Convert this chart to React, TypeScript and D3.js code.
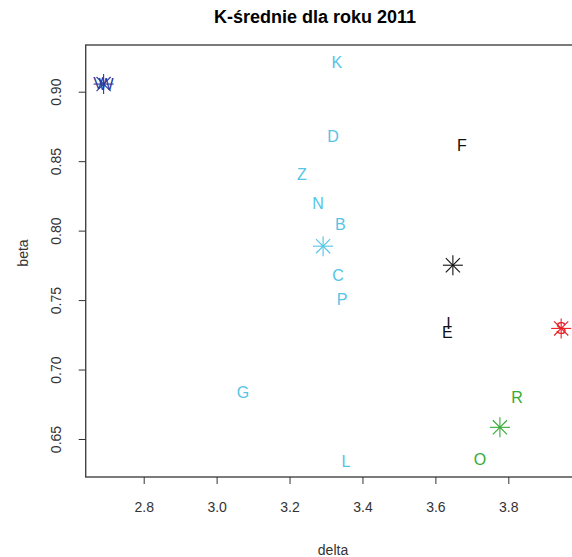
import React, { useEffect, useRef } from 'react';
import * as d3 from 'd3';

// country labels, their delta / beta values and cluster id
const LABELS = ['V', 'W', 'K', 'D', 'Z', 'N', 'B', 'C', 'P', 'G', 'L', 'F', 'I', 'E', 'S', 'R', 'O'];
const DELTA = [2.676, 2.697, 3.330, 3.319, 3.234, 3.278, 3.339, 3.333, 3.344, 3.072, 3.355, 3.673, 3.636, 3.633, 3.945, 3.824, 3.722];
const BETA = [0.9060, 0.9055, 0.9207, 0.8674, 0.8407, 0.8198, 0.8047, 0.7679, 0.7506, 0.6836, 0.6339, 0.8615, 0.7335, 0.7270, 0.7296, 0.6800, 0.6353];
const CLUSTER = [0, 0, 1, 1, 1, 1, 1, 1, 1, 1, 1, 2, 2, 2, 3, 4, 4];

// cluster centres
const CENTER_DELTA = [2.690, 3.292, 3.648, 3.945, 3.777];
const CENTER_BETA = [0.9055, 0.7888, 0.7751, 0.7296, 0.6584];
const COLORS = ['#2b3a9e', '#55c4e6', '#111111', '#e8202a', '#36ab36'];

const X_TICKS = [2.8, 3.0, 3.2, 3.4, 3.6, 3.8];
const Y_TICKS = [0.65, 0.70, 0.75, 0.80, 0.85, 0.90];

const App: React.FC = () => {
  const svgRef = useRef<SVGSVGElement>(null);

  useEffect(() => {
    if (!svgRef.current) return;
    const svg = d3.select(svgRef.current);
    svg.selectAll('*').remove();

    const left = 85.7, right = 574, top = 45, bottom = 477;
    const x = d3.scaleLinear().domain([2.8, 3.8]).range([143.7, 508.3]);
    const y = d3.scaleLinear().domain([0.65, 0.90]).range([439, 91.7]);
    const font = 'Liberation Sans, Arial, sans-serif';

    svg.append('rect')
      .attr('x', left).attr('y', top)
      .attr('width', right - left).attr('height', bottom - top)
      .attr('fill', 'none').attr('stroke', '#444').attr('stroke-width', 1.4);

    // x axis
    const xa = svg.append('g')
      .attr('transform', `translate(0,${bottom})`)
      .call(d3.axisBottom(x).tickValues(X_TICKS).tickFormat(d3.format('.1f')).tickSize(7).tickPadding(18));
    xa.select('.domain').remove();
    xa.selectAll('line').attr('stroke', '#333');
    xa.selectAll('text').attr('font-family', font).attr('font-size', 14).attr('fill', '#333');

    // y axis, labels rotated like R's default
    const ya = svg.append('g')
      .attr('transform', `translate(${left},0)`)
      .call(d3.axisLeft(y).tickValues(Y_TICKS).tickFormat(d3.format('.2f')).tickSize(7).tickPadding(0));
    ya.select('.domain').remove();
    ya.selectAll('line').attr('stroke', '#333');
    ya.selectAll('text')
      .attr('font-family', font).attr('font-size', 14).attr('fill', '#333')
      .attr('x', 0).attr('dy', 0)
      .attr('text-anchor', 'middle')
      .attr('transform', 'translate(-28,0) rotate(-90)')
      .attr('dominant-baseline', 'middle');

    // letters
    svg.append('g').selectAll('text')
      .data(LABELS)
      .enter()
      .append('text')
      .attr('x', (d, i) => x(DELTA[i]))
      .attr('y', (d, i) => y(BETA[i]))
      .attr('text-anchor', 'middle')
      .attr('dominant-baseline', 'central')
      .attr('font-family', font)
      .attr('font-size', 16)
      .attr('fill', (d, i) => COLORS[CLUSTER[i]])
      .text(d => d);

    // centre asterisks
    const r = 10;
    const stars = svg.append('g').selectAll('g')
      .data(CENTER_DELTA)
      .enter()
      .append('g')
      .attr('transform', (d, i) => `translate(${x(d)},${y(CENTER_BETA[i])})`)
      .attr('stroke', (d, i) => COLORS[i])
      .attr('stroke-width', 1.1);
    const k = r / Math.SQRT2;
    [[-r, 0, r, 0], [0, -r, 0, r], [-k, -k, k, k], [-k, k, k, -k]].forEach(([x1, y1, x2, y2]) => {
      stars.append('line').attr('x1', x1).attr('y1', y1).attr('x2', x2).attr('y2', y2);
    });

    svg.append('text')
      .attr('x', 315).attr('y', 23)
      .attr('text-anchor', 'middle')
      .attr('font-family', font).attr('font-weight', 'bold').attr('font-size', 18)
      .text('K-średnie dla roku 2011');

    svg.append('text')
      .attr('x', 333).attr('y', 555)
      .attr('text-anchor', 'middle')
      .attr('font-family', font).attr('font-size', 14).attr('fill', '#333')
      .text('delta');

    svg.append('text')
      .attr('transform', 'translate(28,253) rotate(-90)')
      .attr('text-anchor', 'middle')
      .attr('font-family', font).attr('font-size', 14).attr('fill', '#333')
      .text('beta');
  }, []);

  return (
    <svg
      ref={svgRef}
      width={572}
      height={557}
      style={{ position: 'absolute', left: 0, top: 0, background: '#fff' }}
    />
  );
};

export default App;
